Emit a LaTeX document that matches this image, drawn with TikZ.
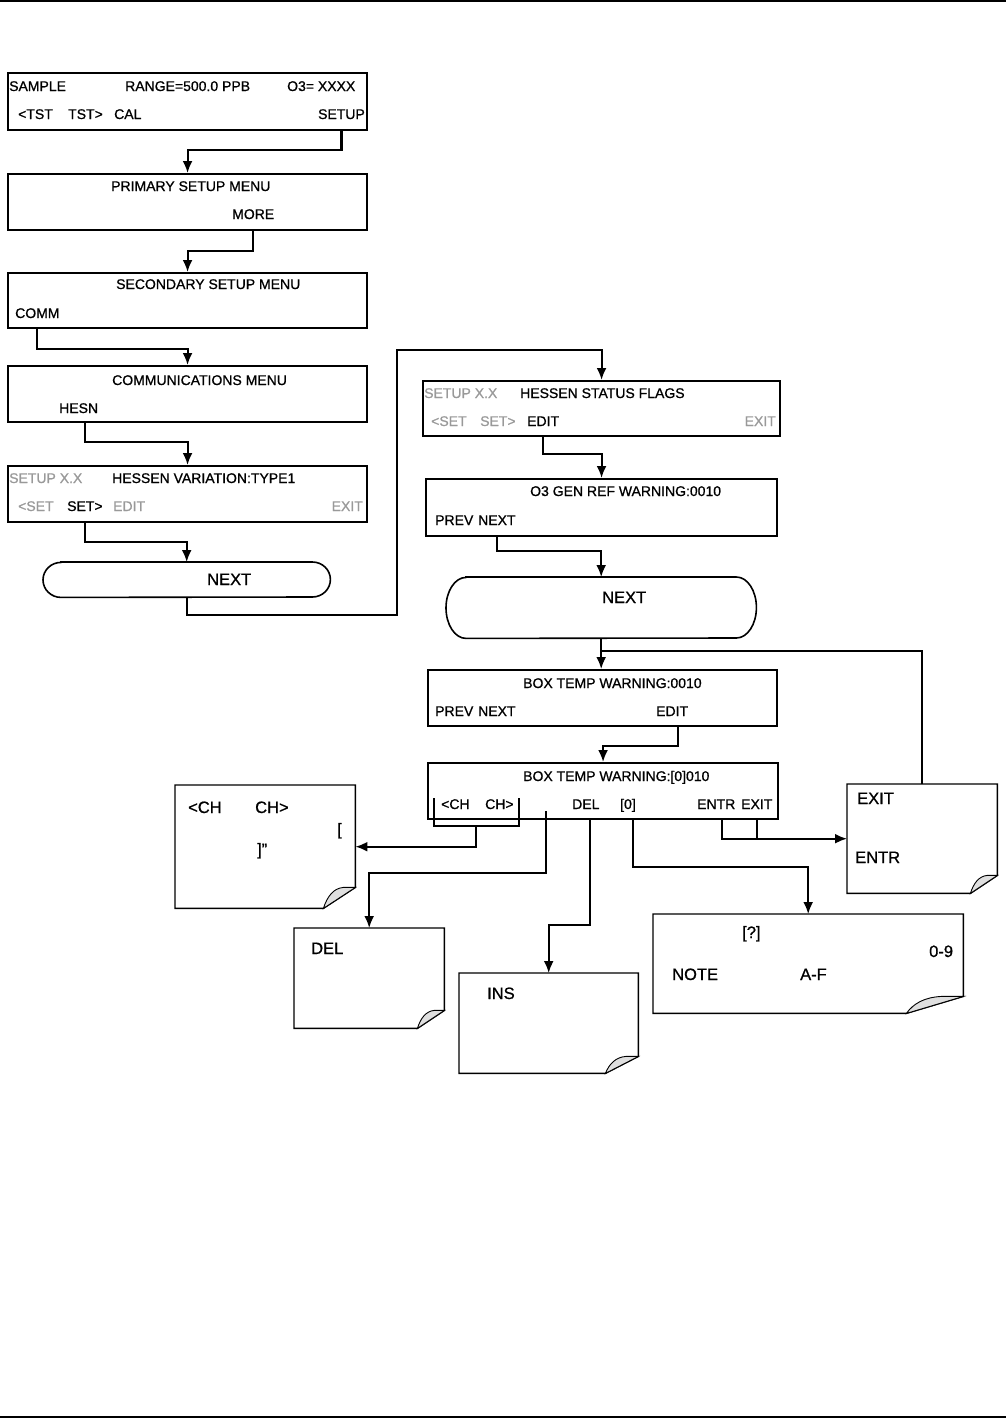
\documentclass[tikz,border=0pt]{standalone}
\usepackage{fontspec}
\setmainfont{Liberation Sans}
\newfontfamily\lcdface{Liberation Sans}[FakeBold=0.8]
\usepackage{tikz}
\usetikzlibrary{arrows.meta}
\definecolor{greyed}{gray}{0.6}
\newcommand{\lcdfont}{\lcdface\fontsize{14}{16}\selectfont}
\newcommand{\memofont}{\lcdface\fontsize{16.5}{18}\selectfont}
\newcommand{\dogear}[3]{
    \draw[line width=1.4pt] (#1.north west) -- (#1.north east) -- ([yshift=#3pt]#1.south east)
        -- ([xshift=-#2pt]#1.south east) -- (#1.south west) -- cycle;
    \filldraw[fill=gray!25, line width=0.9pt] ([xshift=-#2pt]#1.south east)
        .. controls ([xshift={-0.88*#2pt}, yshift={0.57*#3pt}]#1.south east)
        and ([xshift={-0.69*#2pt}, yshift={0.95*#3pt}]#1.south east)
        .. ([xshift={-0.38*#2pt}, yshift=#3pt]#1.south east) -- ([yshift=#3pt]#1.south east) -- cycle;
}
\newcommand{\pillframe}[3]{
    \draw[line width=1.6pt] ([xshift=#2pt]#1.north west) -- ([xshift=-#2pt]#1.north east)
        arc[start angle=90, end angle=-90, x radius=#2pt, y radius=#3pt]
        -- ([xshift=#2pt]#1.south west)
        arc[start angle=270, end angle=90, x radius=#2pt, y radius=#3pt] -- cycle;
}

\begin{document}
\begin{tikzpicture}[x=1pt, y=-1pt,
        lcd/.style={draw, line width=2.1pt, inner sep=0, anchor=north west},
        pad/.style={inner sep=0, anchor=north west},
        key/.style={inner sep=0, anchor=west, text height=10pt, text depth=0pt, font=\lcdfont},
        dim/.style={key, text=greyed},
        memo/.style={inner sep=0, anchor=west, text height=12pt, text depth=0pt, font=\memofont},
        wire/.style={draw, line width=2.1pt},
        flow/.style={wire, -{Latex[length=12pt, width=10pt]}}]
        \useasboundingbox (0,0) rectangle (1006,1419);
        \draw[line width=1.5pt] (0,1) -- (1006,1);
        \draw[line width=1.5pt] (0,1417) -- (1006,1417);

        \node[lcd, minimum width=359, minimum height=57] (sample) at (7,72) {};
        \node[key] (smp) at (9,86) {SAMPLE};
        \node[key] (rng) at (125,86) {RANGE=500.0 PPB};
        \node[key] (ozn) at (287,86) {O3= XXXX};
        \node[key] (ltst) at (18,114) {<TST};
        \node[key] (rtst) at (68,114) {TST>};
        \node[key] (cal) at (114,114) {CAL};
        \node[key, anchor=east] (setup) at (365,114) {SETUP};

        \node[lcd, minimum width=359, minimum height=56] (primary) at (7,173) {};
        \node[key] (pri) at (111,186) {PRIMARY SETUP MENU};
        \node[key] (more) at (232,214) {MORE};

        \node[lcd, minimum width=359, minimum height=55] (secondary) at (7,272) {};
        \node[key] (sec) at (116,284) {SECONDARY SETUP MENU};
        \node[key] (comm) at (15,313) {COMM};

        \node[lcd, minimum width=359, minimum height=56] (comms) at (7,365) {};
        \node[key] (cmn) at (112,380) {COMMUNICATIONS MENU};
        \node[key] (hesn) at (59,408) {HESN};

        \node[lcd, minimum width=359, minimum height=56] (variation) at (7,465) {};
        \node[dim] (vsx) at (9,478) {SETUP X.X};
        \node[key] (var) at (112,478) {HESSEN VARIATION:TYPE1};
        \node[dim] (vls) at (18,506) {<SET};
        \node[key] (vrs) at (67,506) {SET>};
        \node[dim] (ved) at (113,506) {EDIT};
        \node[dim, anchor=east] (vex) at (363,506) {EXIT};

        \node[pad, minimum width=287, minimum height=35] (nextl) at (43,562) {};
        \pillframe{nextl}{18}{17.5}
        \node[memo] (nxl) at (207,579) {NEXT};

        \node[lcd, minimum width=357, minimum height=55] (flags) at (422,380) {};
        \node[dim] (fsx) at (424,393) {SETUP X.X};
        \node[key] (fhs) at (520,393) {HESSEN STATUS FLAGS};
        \node[dim] (fls) at (431,421) {<SET};
        \node[dim] (frs) at (480,421) {SET>};
        \node[key] (fed) at (527,421) {EDIT};
        \node[dim, anchor=east] (fex) at (776,421) {EXIT};

        \node[lcd, minimum width=351, minimum height=57] (gen) at (425,478) {};
        \node[key] (gwr) at (530,491) {O3 GEN REF WARNING:0010};
        \node[key] (gpv) at (435,520) {PREV};
        \node[key] (gnx) at (478,520) {NEXT};

        \node[pad, minimum width=310, minimum height=61] (nextr) at (446,577) {};
        \pillframe{nextr}{20}{30.5}
        \node[memo] (nxr) at (602,597) {NEXT};

        \node[lcd, minimum width=349, minimum height=56] (boxa) at (427,669) {};
        \node[key] (bwa) at (523,683) {BOX TEMP WARNING:0010};
        \node[key] (bpv) at (435,711) {PREV};
        \node[key] (bnx) at (478,711) {NEXT};
        \node[key] (bed) at (656,711) {EDIT};

        \node[lcd, minimum width=350, minimum height=56] (boxb) at (427,762) {};
        \node[key] (bwb) at (523,776) {BOX TEMP WARNING:[0]010};
        \node[key] (chl) at (441,804) {<CH};
        \node[key] (chr) at (485,804) {CH>};
        \node[key] (del) at (572,804) {DEL};
        \node[key] (zero) at (620,804) {[0]};
        \node[key] (entr) at (697,804) {ENTR};
        \node[key] (exit) at (741,804) {EXIT};

        \node[pad, minimum width=180, minimum height=123] (chnote) at (175,785) {};
        \dogear{chnote}{32}{21}
        \node[memo] (nchl) at (188,807) {<CH};
        \node[memo] (nchr) at (255,807) {CH>};
        \node[memo] (nlb) at (337,829) {[};
        \node[memo] (nrb) at (257,849) {]”};

        \node[pad, minimum width=150, minimum height=100] (delnote) at (294,928) {};
        \dogear{delnote}{27}{18}
        \node[memo] (ndel) at (311,948) {DEL};

        \node[pad, minimum width=179, minimum height=100] (insnote) at (459,973) {};
        \dogear{insnote}{33}{17}
        \node[memo] (nins) at (487,993) {INS};

        \node[pad, minimum width=310, minimum height=99] (hexnote) at (653,914) {};
        \dogear{hexnote}{57}{17}
        \node[memo] (nq) at (742,932) {[?]};
        \node[memo] (n09) at (929,951) {0-9};
        \node[memo] (nnote) at (672,974) {NOTE};
        \node[memo] (naf) at (800,974) {A-F};

        \node[pad, minimum width=150, minimum height=109] (exitnote) at (847,784) {};
        \dogear{exitnote}{27}{18}
        \node[memo] (nexit) at (857,798) {EXIT};
        \node[memo] (nentr) at (855,857) {ENTR};

        \coordinate (jump) at (397,350);
        \coordinate (loop) at (601,651);
        \coordinate (brl) at (434,798);
        \coordinate (brr) at (519,798);
        \coordinate (brm) at (476,826);
        \coordinate (blank) at (546,811);

        \draw[flow] (setup.south |- sample.south) -- ++(0,19) -| (primary.north);
        \draw[flow] (more.south |- primary.south) -- ++(0,20) -| (secondary.north);
        \draw[flow] (comm.south |- secondary.south) -- ++(0,20) -| (comms.north);
        \draw[flow] ([xshift=6pt]hesn.south |- comms.south) -- ++(0,19) -| (variation.north);
        \draw[flow] (vrs.south |- variation.south) -- ++(0,19) -| (nextl.north);
        \draw[flow] (nextl.south) -- ++(0,18) -| (jump) -| (flags.north);
        \draw[flow] (fed.south |- flags.south) -- ++(0,17) -| (gen.north);
        \draw[flow] (gnx.south |- gen.south) -- ++(0,14) -| (nextr.north);
        \draw[flow] (nextr.south) -- (nextr.south |- boxa.north);
        \draw[wire] (exitnote.north) |- (loop);
        \draw[flow] ([xshift=6pt]bed.south |- boxa.south) -- ++(0,19) -| (boxb.north);
        \draw[wire] (brl) -- ++(0,28) -| (brr);
        \draw[flow] (brm) |- (chnote.east);
        \draw[flow] (blank) -- ++(0,62) -| (delnote.north);
        \draw[flow] ([xshift=4pt]del.south |- boxb.south) -- ++(0,105) -| (insnote.north);
        \draw[flow] ([xshift=5pt]zero.south |- boxb.south) -- ++(0,47) -| (hexnote.north);
        \draw[flow] ([xshift=6pt]entr.south |- boxb.south) |- (exitnote.west);
        \draw[wire] (exit.south |- boxb.south) -- (exit.south |- exitnote.west);
\end{tikzpicture}
\end{document}
